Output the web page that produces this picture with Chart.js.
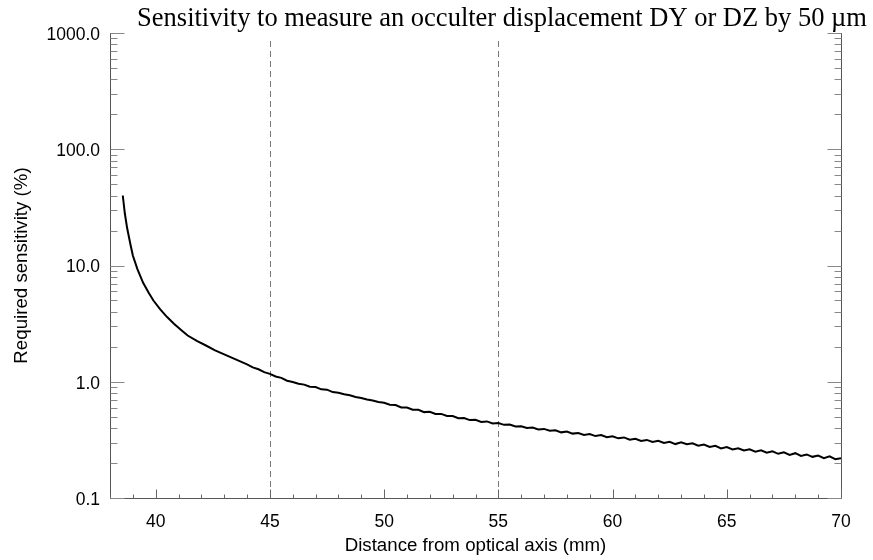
<!DOCTYPE html>
<html>
<head>
<meta charset="utf-8">
<script src="https://cdn.jsdelivr.net/npm/chart.js@4.4.1/dist/chart.umd.min.js"></script>
<style>
  html, body { margin: 0; padding: 0; background: #fff; }
  #wrap { width: 873px; height: 560px; position: relative; }
</style>
</head>
<body>
<div id="wrap"><canvas id="c" width="873" height="560"></canvas></div>
<script>
// ---- data ----
const titleText = "Sensitivity to measure an occulter displacement DY or DZ by 50 \u00b5m";
const xAxisTitle = "Distance from optical axis (mm)";
const yAxisTitle = "Required sensitivity (%)";
const xTickValues = [40, 45, 50, 55, 60, 65, 70];
const yTickValues = [0.1, 1, 10, 100, 1000];
const markerLines = [45, 55];

const distance = [
  38.56, 38.65, 38.75, 38.9, 39.0, 39.2, 39.45, 39.7, 39.9, 40.2,
  40.5, 40.8, 41.1, 41.4, 41.8, 42.2, 42.6, 43.0, 43.5,
  44.0, 44.25, 44.5, 44.75, 45.0, 45.25, 45.5, 45.75, 46.0, 46.25,
  46.5, 46.75, 47.0, 47.25, 47.5, 47.75, 48.0, 48.25, 48.5, 48.75,
  49.0, 49.25, 49.5, 49.75, 50.0, 50.25, 50.5, 50.75, 51.0, 51.25,
  51.5, 51.75, 52.0, 52.25, 52.5, 52.75, 53.0, 53.25, 53.5, 53.75,
  54.0, 54.25, 54.5, 54.75, 55.0, 55.25, 55.5, 55.75, 56.0, 56.25,
  56.5, 56.75, 57.0, 57.25, 57.5, 57.75, 58.0, 58.25, 58.5, 58.75,
  59.0, 59.25, 59.5, 59.75, 60.0, 60.25, 60.5, 60.75, 61.0, 61.25,
  61.5, 61.75, 62.0, 62.25, 62.5, 62.75, 63.0, 63.25, 63.5, 63.75,
  64.0, 64.25, 64.5, 64.75, 65.0, 65.25, 65.5, 65.75, 66.0, 66.25,
  66.5, 66.75, 67.0, 67.25, 67.5, 67.75, 68.0, 68.25, 68.5, 68.75,
  69.0, 69.25, 69.5, 69.75, 70.0
];
const sensitivity = [
  40.0, 28.0, 21.0, 15.0, 12.2, 9.3, 7.1, 5.8, 5.0, 4.2,
  3.6, 3.15, 2.8, 2.5, 2.25, 2.05, 1.86, 1.72, 1.56,
  1.41, 1.33, 1.28, 1.21, 1.17, 1.11, 1.08, 1.02, 0.995, 0.96,
  0.945, 0.905, 0.9, 0.86, 0.855, 0.815, 0.805, 0.78, 0.765, 0.74,
  0.725, 0.705, 0.69, 0.67, 0.66, 0.635, 0.63, 0.6, 0.6, 0.575,
  0.574, 0.548, 0.552, 0.528, 0.529, 0.508, 0.507, 0.486, 0.488, 0.468,
  0.47, 0.451, 0.456, 0.437, 0.442, 0.426, 0.429, 0.412, 0.414, 0.4,
  0.404, 0.388, 0.393, 0.379, 0.382, 0.367, 0.373, 0.358, 0.362, 0.348,
  0.355, 0.341, 0.348, 0.333, 0.339, 0.326, 0.332, 0.317, 0.323, 0.309,
  0.316, 0.303, 0.31, 0.297, 0.304, 0.291, 0.302, 0.29, 0.296, 0.282,
  0.288, 0.275, 0.281, 0.267, 0.274, 0.262, 0.268, 0.256, 0.262, 0.25,
  0.257, 0.245, 0.252, 0.24, 0.247, 0.235, 0.243, 0.23, 0.237, 0.226,
  0.232, 0.22, 0.228, 0.216, 0.22
];

const points = distance.map((d, i) => ({ x: d, y: sensitivity[i] }));

// ---- plugin: IDL-style axes (inward ticks), dashed markers, title ----
const idlAxes = {
  id: 'idlAxes',
  beforeDatasetsDraw(chart) {
    const { ctx, chartArea: a, scales: { x } } = chart;
    ctx.save();
    ctx.strokeStyle = '#777';
    ctx.lineWidth = 1;
    ctx.setLineDash([6, 4]);
    markerLines.forEach(v => {
      const px = Math.round(x.getPixelForValue(v)) + 0.5;
      ctx.beginPath();
      ctx.moveTo(px, a.top + 8);
      ctx.lineTo(px, a.bottom);
      ctx.stroke();
    });
    ctx.restore();
  },
  afterDatasetsDraw(chart) {
    const { ctx, chartArea: a, scales: { x, y } } = chart;
    ctx.save();
    ctx.lineWidth = 1;
    ctx.strokeStyle = '#555';
    ctx.beginPath();
    const L = Math.round(a.left) + 0.5, R = Math.round(a.right) + 0.5, B = Math.round(a.bottom) + 0.5, T = Math.round(a.top);
    ctx.moveTo(L, T); ctx.lineTo(L, B); ctx.lineTo(R, B); ctx.lineTo(R, T);
    ctx.stroke();
    ctx.strokeStyle = '#666';
    for (let v = Math.ceil(x.min); v <= x.max; v++) {
      const px = Math.round(x.getPixelForValue(v)) + 0.5;
      const len = (v % 5 === 0) ? 9 : 4;
      ctx.beginPath();
      ctx.moveTo(px, B); ctx.lineTo(px, B - len);
      ctx.stroke();
    }
    ctx.strokeStyle = '#888';
    for (let d = -1; d < 3; d++) {
      for (let m = 1; m <= 9; m++) {
        const v = m * Math.pow(10, d);
        const py = Math.round(y.getPixelForValue(v)) + 0.5;
        const len = m === 1 ? 14 : 7;
        ctx.beginPath();
        ctx.moveTo(L, py); ctx.lineTo(L + len, py);
        ctx.moveTo(R, py); ctx.lineTo(R - len, py);
        ctx.stroke();
      }
    }
    const pTop = Math.round(y.getPixelForValue(1000)) + 0.5;
    ctx.beginPath();
    ctx.moveTo(L, pTop); ctx.lineTo(L + 14, pTop);
    ctx.moveTo(R, pTop); ctx.lineTo(R - 14, pTop);
    ctx.stroke();
    ctx.fillStyle = '#000';
    ctx.font = '26.5px "Liberation Serif", "Times New Roman", serif';
    ctx.textAlign = 'center';
    ctx.textBaseline = 'alphabetic';
    ctx.fillText(titleText, 502, 26);
    ctx.restore();
  }
};

const sansFont = { family: '"Liberation Sans", Arial, Helvetica, sans-serif', size: 17.5 };
const titleFont = { family: '"Liberation Sans", Arial, Helvetica, sans-serif', size: 18.7 };

new Chart(document.getElementById('c'), {
  type: 'line',
  data: {
    datasets: [{
      data: points,
      borderColor: '#000',
      borderWidth: 2,
      pointRadius: 0,
      tension: 0,
      fill: false
    }]
  },
  options: {
    responsive: false,
    animation: false,
    devicePixelRatio: 1,
    layout: { padding: { top: 33, right: 32, left: 0, bottom: 0 } },
    plugins: { legend: { display: false }, tooltip: { enabled: false }, title: { display: false } },
    scales: {
      x: {
        type: 'linear',
        min: 38, max: 70,
        grid: { display: false, drawTicks: false },
        border: { display: false },
        afterBuildTicks: s => { s.ticks = xTickValues.map(v => ({ value: v })); },
        afterFit: s => { s.height = 62; },
        ticks: { color: '#000', font: sansFont, padding: 14, maxRotation: 0, autoSkip: false },
        title: { display: true, text: xAxisTitle, color: '#000', font: titleFont, padding: { top: 0, bottom: 2.5 } }
      },
      y: {
        type: 'logarithmic',
        min: 0.1, max: 1000,
        grid: { display: false, drawTicks: false },
        border: { display: false },
        afterBuildTicks: s => { s.ticks = yTickValues.map(v => ({ value: v })); },
        afterFit: s => { s.width = 110; },
        ticks: { color: '#000', font: sansFont, padding: 10, autoSkip: false, labelOffset: 2, callback: v => Number(v).toFixed(1) },
        title: { display: true, text: yAxisTitle, color: '#000', font: titleFont, padding: { top: 11, bottom: 0 } }
      }
    }
  },
  plugins: [idlAxes]
});
</script>
</body>
</html>
